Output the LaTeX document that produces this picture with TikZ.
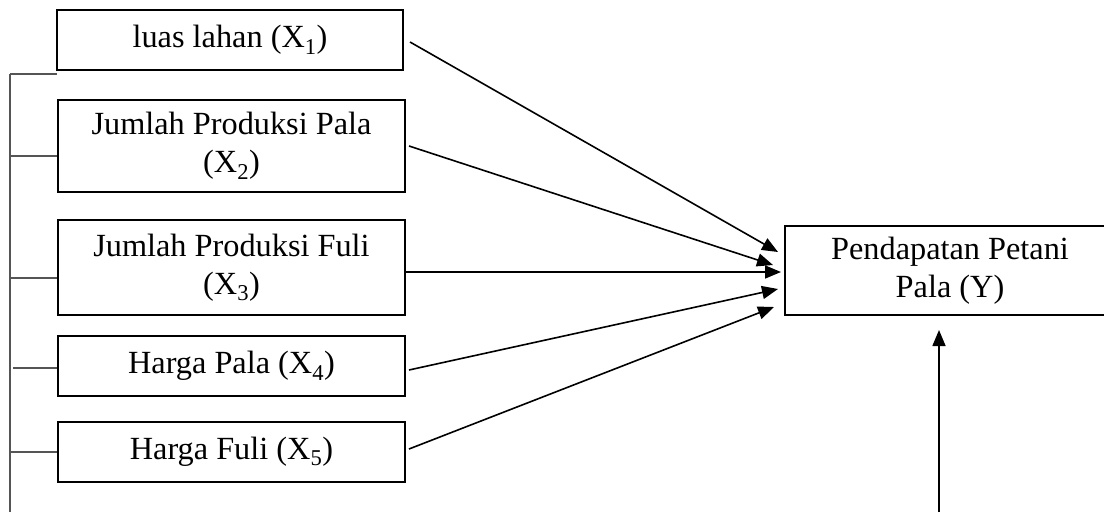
\documentclass[tikz,border=0pt]{standalone}
\usepackage{fontspec}
\setmainfont{Liberation Serif}
\usetikzlibrary{arrows.meta}
\definecolor{brk}{HTML}{555555}
\begin{document}
\begin{tikzpicture}[x=1pt,y=-1pt,
  box/.style={draw=black,line width=2pt,rectangle,inner sep=0pt,align=center,
    font=\fontsize{32.3}{38}\selectfont,text=black},
  link/.style={line width=1.6pt,-{Triangle[length=16pt,width=13pt]}},
  brkline/.style={draw=brk,line width=1.7pt}]
\useasboundingbox (0,0) rectangle (1104,512);
\fill[white] (0,0) rectangle (1104,512);

\node[box,minimum width=346pt,minimum height=60pt] (b1) at (230,40) {luas lahan (X\textsubscript{1})};
\node[box,minimum width=347pt,minimum height=92pt] (b2) at (231.5,146) {Jumlah Produksi Pala\\(X\textsubscript{2})};
\node[box,minimum width=347pt,minimum height=95pt] (b3) at (231.5,267.5) {Jumlah Produksi Fuli\\(X\textsubscript{3})};
\node[box,minimum width=347pt,minimum height=60pt] (b4) at (231.5,366) {Harga Pala (X\textsubscript{4})};
\node[box,minimum width=347pt,minimum height=60pt] (b5) at (231.5,452) {Harga Fuli (X\textsubscript{5})};
\node[box,minimum width=330pt,minimum height=89pt] (y) at (950,270.5) {Pendapatan Petani\\Pala (Y)};

% arrow tips near Y
\coordinate (t1) at (778,252);
\coordinate (t2) at (773,265);
\coordinate (t3) at (781,272);
\coordinate (t4) at (778,289);
\coordinate (t5) at (774,307);

\draw[link] ([xshift=6pt,yshift=-2pt]b1.east) -- (t1);
\draw[link] ([xshift=3pt]b2.east) -- (t2);
\draw[link] ([yshift=-4.5pt]b3.east) -- (t3);
\draw[link] ([xshift=3pt,yshift=-4pt]b4.east) -- (t4);
\draw[link] ([xshift=3pt,yshift=3pt]b5.east) -- (t5);

% bottom arrow into Y
\coordinate (bt) at (939,512);
\coordinate (by) at (939,330);
\draw[link] (bt) -- (by);

% left bracket
\coordinate (v0) at (10,74);
\coordinate (v1) at (10,512);
\draw[brkline] (v0) -- (v1);
\draw[brkline] (v0) -- (57,74);
\draw[brkline] (10,156) -- (b2.west |- 0,156);
\draw[brkline] (10,278) -- (b3.west |- 0,278);
\draw[brkline] (13,368) -- (b4.west |- 0,368);
\draw[brkline] (10,452) -- (b5.west |- 0,452);
\end{tikzpicture}
\end{document}
